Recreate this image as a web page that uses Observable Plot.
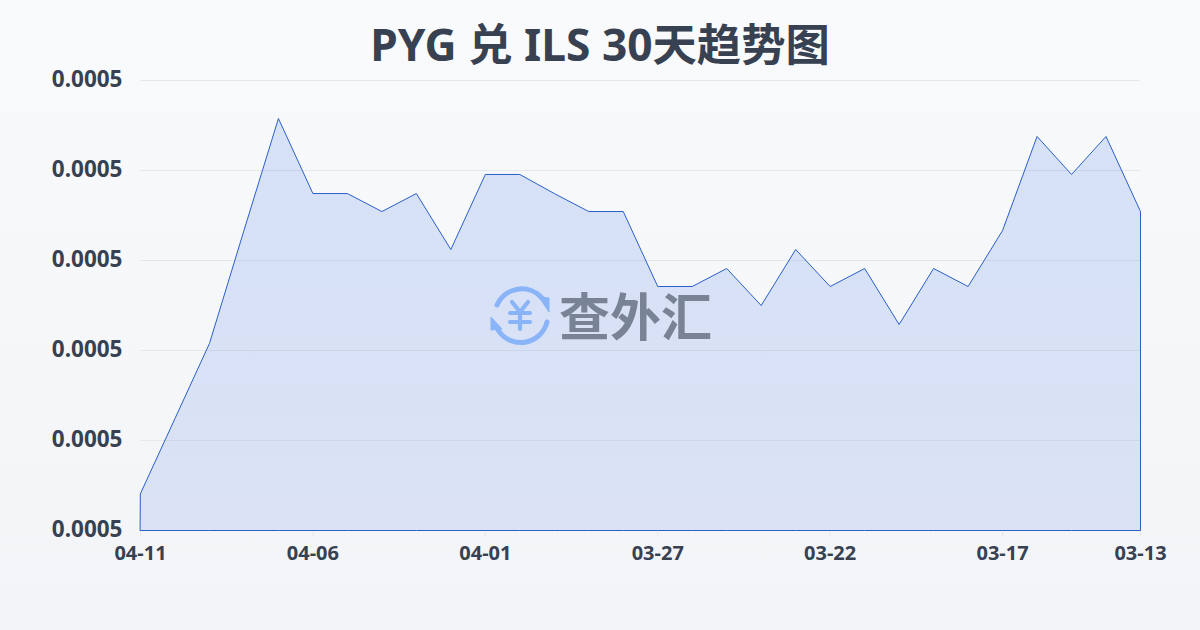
<!DOCTYPE html>
<html lang="zh">
<head>
<meta charset="utf-8">
<script src="https://cdn.jsdelivr.net/npm/d3@7"></script>
<script src="https://cdn.jsdelivr.net/npm/@observablehq/plot@0.6"></script>
<style>
html,body{margin:0;padding:0}
body{width:1200px;height:630px;overflow:hidden;position:relative;background:linear-gradient(180deg,#f9fafc 0%,#f3f4f7 100%);font-family:"Noto Sans","Noto Sans CJK SC",sans-serif}
h1{margin:0;height:50px;line-height:88px;text-align:center;font-size:44.3px;font-weight:700;color:#374151;letter-spacing:0;overflow:visible}
#chart svg{display:block;background:transparent}
#mark{position:absolute;left:488px;top:283px;width:230px;height:64px}
#mark span{position:absolute;left:71px;top:-9px;font-family:"Noto Sans CJK SC",sans-serif;font-size:51px;line-height:80px;font-weight:700;color:#798396;white-space:nowrap}
</style>
</head>
<body>
<h1>PYG 兑 ILS 30天趋势图</h1>
<div id="chart"></div>
<div id="mark">
<svg width="64" height="64" viewBox="0 0 64 64">
<g fill="none" stroke="#8ab4f8" stroke-width="5" stroke-linecap="round">
<path d="M9 22 A27 27 0 0 1 54 15"/>
<path d="M59 39 A27 27 0 0 1 10 47"/>
</g>
<g fill="#8ab4f8" stroke="#8ab4f8" stroke-width="1" stroke-linejoin="round">
<path d="M51 14 L61 15 L61 29 Z"/>
<path d="M3 34 L3 47 L14 46 Z"/>
</g>
<g fill="none" stroke="#8ab4f8" stroke-width="4.2" stroke-linecap="round" stroke-linejoin="round">
<path d="M24 19 L32 29 L40 19"/>
<path d="M32 29 L32 46"/>
<path d="M22 30 L42 30"/>
<path d="M22 39 L42 39"/>
</g>
</svg>
<span>查外汇</span>
</div>
<script>
const dates = ["04-11","04-10","04-09","04-08","04-07","04-06","04-05","04-04","04-03","04-02","04-01","03-31","03-30","03-29","03-28","03-27","03-26","03-25","03-24","03-23","03-22","03-21","03-20","03-19","03-18","03-17","03-16","03-15","03-14","03-13"];
const rates = [0.00046411,0.00047244,0.00048078,0.00049333,0.00050578,0.00049744,0.00049744,0.00049544,0.00049744,0.00049122,0.00049956,0.00049956,0.00049744,0.00049544,0.00049544,0.00048711,0.00048711,0.00048911,0.00048500,0.00049122,0.00048711,0.00048911,0.00048289,0.00048911,0.00048711,0.00049333,0.00050378,0.00049956,0.00050378,0.00049544];
const yTicks = [0.00046,0.00047,0.00048,0.00049,0.00050,0.00051];
const xTickIndex = [0,5,10,15,20,25,29];
const table = dates.map((date,i)=>({i,date,rate:rates[i]}));

const defs = () => {
  const s = d3.create("svg:defs");
  const g = s.append("linearGradient").attr("id","areaFill").attr("x1",0).attr("y1",0).attr("x2",0).attr("y2",1);
  g.append("stop").attr("offset","0%").attr("stop-color","#3b78e7").attr("stop-opacity",0.18);
  g.append("stop").attr("offset","100%").attr("stop-color","#3b6ae0").attr("stop-opacity",0.14);
  return s.node();
};

const plot = Plot.plot({
  width:1200,height:520,
  marginTop:30,marginBottom:40,marginLeft:140,marginRight:60,
  style:{background:"transparent",fontFamily:'"Noto Sans","Noto Sans CJK SC",sans-serif'},
  x:{type:"linear",domain:[0,29],axis:null},
  y:{domain:[0.00046,0.00051],axis:null},
  marks:[
    defs,
    Plot.ruleY(yTicks,{stroke:"#e5e7eb",strokeWidth:1}),
    Plot.axisX(xTickIndex,{anchor:"bottom",tickSize:7,tickPadding:8,stroke:"#e5e7eb",tickFormat:d=>dates[d],fontSize:20,fontWeight:700,fill:"#374151",label:null}),
    Plot.areaY(table,{x:"i",y1:0.00046,y2:"rate",fill:"url(#areaFill)",stroke:"#2a5fc8",strokeWidth:1,curve:"linear",dx:0.5,dy:0.5}),
    Plot.axisY(yTicks,{anchor:"left",tickSize:0,tickPadding:18,dy:-1,tickFormat:d=>d.toFixed(4),fontSize:22.5,fontWeight:700,fill:"#374151",label:null})
  ]
});
document.getElementById("chart").append(plot);
</script>
</body>
</html>
